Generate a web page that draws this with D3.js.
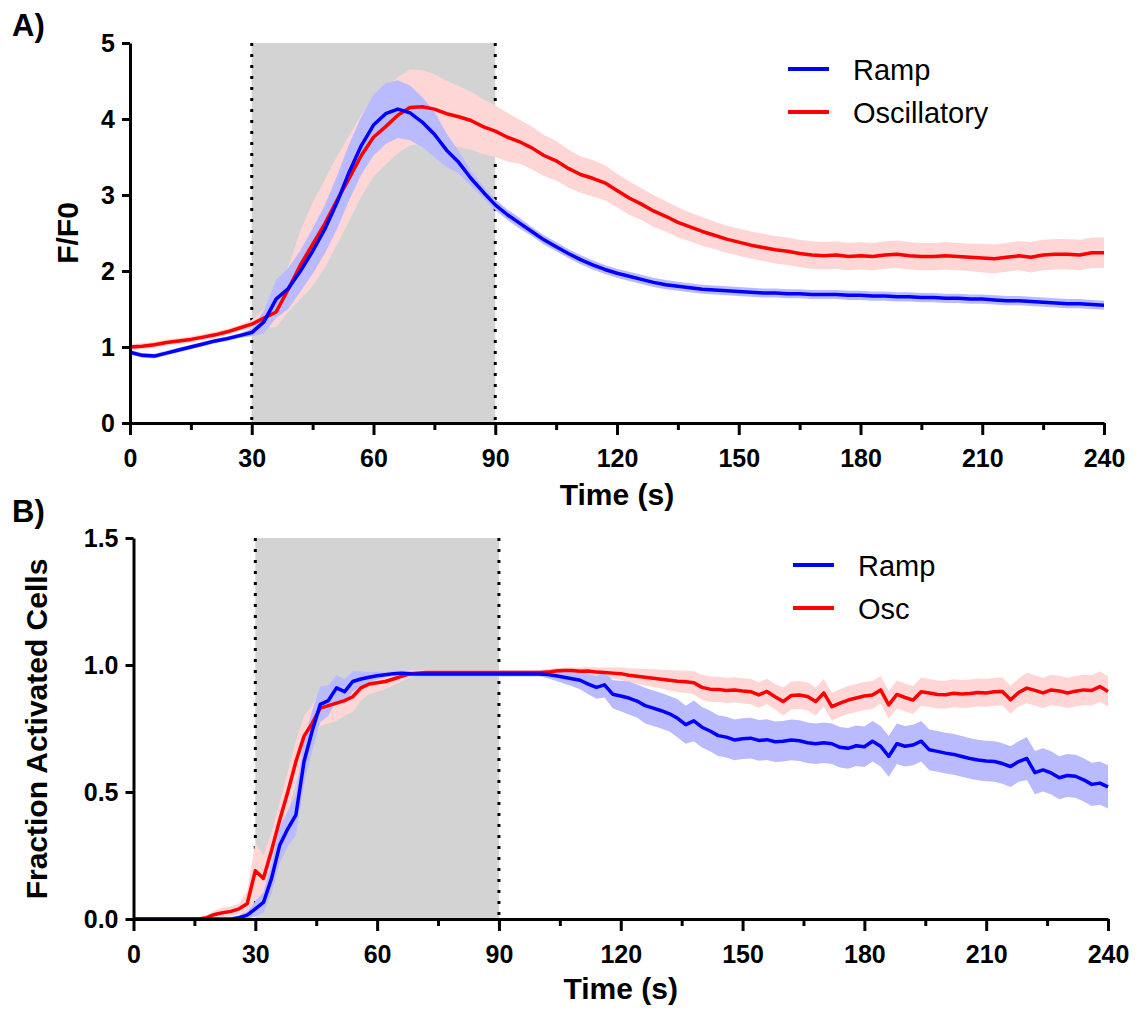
<!DOCTYPE html>
<html>
<head>
<meta charset="utf-8">
<script src="https://cdn.jsdelivr.net/npm/d3@7"></script>
<style>
body { margin: 0; background: #fff; }
svg { font-family: "Liberation Sans", Arial, sans-serif; }
.tick text { font-weight: bold; font-size: 25px; fill: #000; }
</style>
</head>
<body>
<svg width="1142" height="1011"></svg>
<script>
// ---- Data ----
// Panel A: F/F0, sampled every 3 s
let timeA = d3.range(0, 241, 3)
let rampA = [0.93,0.89,0.88,0.92,0.96,1.00,1.04,1.08,1.11,1.15,
    1.19,1.33,1.63,1.77,2.00,2.26,2.55,2.90,3.30,3.65,
    3.92,4.07,4.13,4.08,3.96,3.80,3.59,3.43,3.22,3.04,
    2.87,2.74,2.63,2.52,2.41,2.32,2.23,2.15,2.08,2.02,
    1.97,1.93,1.89,1.85,1.82,1.80,1.78,1.76,1.75,1.74,
    1.73,1.72,1.71,1.71,1.70,1.70,1.69,1.69,1.69,1.68,
    1.68,1.67,1.67,1.66,1.66,1.65,1.65,1.64,1.64,1.63,
    1.63,1.62,1.61,1.61,1.60,1.59,1.58,1.57,1.57,1.56,
    1.55]
let rampASem = [0.03,0.03,0.03,0.03,0.03,0.03,0.03,0.03,0.03,0.03,
    0.05,0.15,0.25,0.27,0.27,0.30,0.32,0.35,0.37,0.38,
    0.40,0.40,0.38,0.36,0.33,0.30,0.22,0.15,0.10,0.08,
    0.07,0.07,0.07,0.06,0.06,0.06,0.06,0.06,0.06,0.06,
    0.06,0.06,0.06,0.06,0.06,0.06,0.06,0.06,0.06,0.06,
    0.06,0.06,0.06,0.06,0.06,0.06,0.06,0.06,0.06,0.06,
    0.06,0.06,0.06,0.06,0.06,0.06,0.06,0.06,0.06,0.06,
    0.06,0.06,0.06,0.06,0.06,0.06,0.06,0.06,0.06,0.06,
    0.06]
let oscA = [1.00,1.01,1.03,1.06,1.08,1.10,1.13,1.16,1.20,1.25,
    1.30,1.38,1.46,1.76,2.08,2.35,2.62,2.93,3.22,3.52,
    3.76,3.90,4.05,4.15,4.16,4.13,4.07,4.03,3.98,3.90,
    3.84,3.76,3.70,3.62,3.52,3.45,3.35,3.27,3.22,3.16,
    3.06,2.96,2.88,2.79,2.72,2.64,2.58,2.52,2.47,2.42,
    2.38,2.34,2.31,2.28,2.26,2.23,2.21,2.20,2.21,2.19,
    2.20,2.19,2.21,2.22,2.20,2.19,2.19,2.20,2.19,2.18,
    2.17,2.16,2.18,2.20,2.18,2.21,2.22,2.22,2.21,2.24,
    2.24]
let oscASem = [0.04,0.04,0.04,0.04,0.04,0.04,0.04,0.04,0.04,0.04,
    0.06,0.12,0.20,0.30,0.45,0.55,0.58,0.58,0.56,0.54,
    0.52,0.50,0.50,0.50,0.48,0.46,0.43,0.40,0.38,0.36,
    0.34,0.32,0.29,0.28,0.27,0.26,0.25,0.24,0.24,0.23,
    0.22,0.22,0.21,0.21,0.20,0.20,0.19,0.19,0.18,0.18,
    0.18,0.18,0.18,0.18,0.18,0.18,0.18,0.18,0.18,0.18,
    0.18,0.18,0.18,0.18,0.18,0.18,0.18,0.18,0.18,0.18,
    0.19,0.19,0.19,0.19,0.20,0.20,0.20,0.20,0.20,0.20,
    0.20]

// Panel B: fraction of activated cells, sampled every 2 s
let timeB = d3.range(0, 241, 2)
let rampB = [0,0,0,0,0,0,0,0,0,0,
    0,0,0,0.005,0.015,0.04,0.065,0.16,0.29,0.355,
    0.41,0.62,0.74,0.845,0.86,0.91,0.895,0.935,0.945,0.952,
    0.958,0.962,0.966,0.968,0.966,0.965,0.965,0.965,0.965,0.965,
    0.965,0.965,0.965,0.965,0.965,0.965,0.965,0.965,0.965,0.965,
    0.965,0.963,0.958,0.952,0.946,0.94,0.925,0.912,0.922,0.885,
    0.878,0.87,0.858,0.84,0.83,0.82,0.808,0.79,0.765,0.78,
    0.755,0.74,0.722,0.716,0.705,0.71,0.712,0.703,0.706,0.698,
    0.7,0.705,0.702,0.694,0.69,0.694,0.69,0.676,0.672,0.682,
    0.678,0.7,0.68,0.64,0.69,0.68,0.685,0.7,0.666,0.66,
    0.653,0.648,0.64,0.632,0.626,0.622,0.62,0.612,0.6,0.62,
    0.632,0.576,0.587,0.575,0.556,0.565,0.562,0.548,0.53,0.535,
    0.52]
let rampBSem = [0.003,0.003,0.003,0.003,0.003,0.003,0.003,0.003,0.003,0.003,
    0.003,0.003,0.005,0.01,0.015,0.03,0.04,0.06,0.07,0.07,
    0.08,0.09,0.08,0.07,0.06,0.05,0.05,0.04,0.03,0.02,
    0.015,0.01,0.01,0.01,0.01,0.01,0.01,0.01,0.01,0.01,
    0.01,0.01,0.01,0.01,0.01,0.01,0.01,0.01,0.01,0.01,
    0.01,0.015,0.02,0.025,0.03,0.035,0.04,0.045,0.05,0.055,
    0.06,0.065,0.065,0.07,0.07,0.07,0.07,0.075,0.075,0.08,
    0.08,0.08,0.08,0.08,0.08,0.08,0.08,0.08,0.08,0.08,
    0.08,0.08,0.08,0.08,0.08,0.08,0.08,0.08,0.08,0.08,
    0.08,0.08,0.08,0.08,0.08,0.08,0.08,0.08,0.08,0.08,
    0.08,0.08,0.08,0.08,0.08,0.08,0.08,0.08,0.08,0.08,
    0.085,0.085,0.085,0.085,0.085,0.085,0.085,0.085,0.085,0.085,
    0.085]
let oscB = [0,0,0,0,0,0,0,0,0,0.005,
    0.018,0.025,0.03,0.04,0.06,0.19,0.16,0.27,0.39,0.5,
    0.62,0.72,0.77,0.83,0.84,0.85,0.86,0.875,0.91,0.925,
    0.93,0.935,0.945,0.955,0.965,0.968,0.97,0.97,0.97,0.97,
    0.97,0.97,0.97,0.97,0.97,0.97,0.97,0.97,0.97,0.97,
    0.97,0.972,0.976,0.978,0.978,0.975,0.976,0.972,0.97,0.968,
    0.966,0.96,0.956,0.952,0.948,0.944,0.94,0.936,0.934,0.93,
    0.912,0.905,0.904,0.9,0.902,0.898,0.895,0.882,0.896,0.875,
    0.856,0.88,0.882,0.876,0.856,0.89,0.836,0.85,0.862,0.87,
    0.878,0.882,0.902,0.843,0.884,0.872,0.862,0.895,0.89,0.884,
    0.883,0.889,0.886,0.888,0.892,0.89,0.895,0.896,0.863,0.892,
    0.909,0.9,0.89,0.902,0.898,0.89,0.897,0.902,0.9,0.915,
    0.896]
let oscBSem = [0.003,0.003,0.003,0.003,0.003,0.003,0.003,0.003,0.003,0.01,
    0.015,0.02,0.02,0.02,0.05,0.11,0.09,0.07,0.07,0.08,
    0.08,0.08,0.07,0.07,0.07,0.07,0.06,0.06,0.05,0.04,
    0.035,0.03,0.025,0.02,0.015,0.01,0.01,0.01,0.01,0.01,
    0.01,0.01,0.01,0.01,0.01,0.01,0.01,0.01,0.01,0.01,
    0.01,0.012,0.012,0.012,0.012,0.015,0.016,0.018,0.02,0.022,
    0.025,0.027,0.03,0.032,0.035,0.037,0.04,0.042,0.044,0.045,
    0.05,0.05,0.05,0.05,0.05,0.05,0.05,0.05,0.05,0.05,
    0.055,0.055,0.055,0.055,0.055,0.055,0.055,0.055,0.055,0.055,
    0.055,0.055,0.055,0.055,0.055,0.055,0.055,0.055,0.055,0.055,
    0.055,0.055,0.055,0.055,0.055,0.055,0.055,0.055,0.055,0.055,
    0.06,0.06,0.06,0.06,0.06,0.06,0.06,0.06,0.06,0.06,
    0.06]

// Axis ticks
let xMajorTicks = [0, 30, 60, 90, 120, 150, 180, 210, 240]
let xMinorTicks = [15, 45, 75, 105, 135, 165, 195, 225]
let yTicksA = [0, 1, 2, 3, 4, 5]
let yTicksB = [0, 0.5, 1.0, 1.5]
let stimulus = [30, 90]

let colors = { ramp: '#0000ff', osc: '#ff0000', rampBand: '#babaff', oscBand: '#ffd6d6' }

let svg = d3.select('svg')
svg.append('rect').attr('width', 1142).attr('height', 1011).attr('fill', '#fff')

function drawPanel(p) {
    let x = d3.scaleLinear().domain([0, 240]).range(p.xRange)
    let y = d3.scaleLinear().domain(p.yDomain).range(p.yRange).clamp(true)
    let yMax = p.yDomain[1]
    let g = svg.append('g')

    // Stimulus window
    g.append('rect')
        .attr('x', x(stimulus[0]))
        .attr('y', y(yMax))
        .attr('width', x(stimulus[1]) - x(stimulus[0]))
        .attr('height', y(0) - y(yMax))
        .attr('fill', '#d3d3d3')

    stimulus.forEach(t => {
        g.append('line')
            .attr('x1', x(t)).attr('x2', x(t))
            .attr('y1', y(yMax)).attr('y2', y(0))
            .attr('stroke', '#000')
            .attr('stroke-width', 3)
            .attr('stroke-dasharray', '3 8')
    })

    let series = [
        { mean: p.osc, sem: p.oscSem, line: colors.osc, band: colors.oscBand },
        { mean: p.ramp, sem: p.rampSem, line: colors.ramp, band: colors.rampBand }
    ]

    // Error bands
    series.forEach(s => {
        let rows = p.times.map((t, i) => ({ t: t, m: s.mean[i], e: s.sem[i] }))
        let area = d3.area()
            .x(d => x(d.t))
            .y0(d => y(d.m - d.e))
            .y1(d => y(d.m + d.e))
        g.append('path').datum(rows).attr('d', area).attr('fill', s.band)
    })

    // Mean lines
    series.forEach(s => {
        let rows = p.times.map((t, i) => ({ t: t, m: s.mean[i] }))
        let line = d3.line().x(d => x(d.t)).y(d => y(d.m))
        g.append('path').datum(rows).attr('d', line)
            .attr('fill', 'none')
            .attr('stroke', s.line)
            .attr('stroke-width', 3.5)
            .attr('stroke-linejoin', 'round')
    })

    // Axes
    let xAxis = d3.axisBottom(x).tickValues(xMajorTicks).tickSize(12).tickPadding(14).tickSizeOuter(0)
    let xMinor = d3.axisBottom(x).tickValues(xMinorTicks).tickSize(7).tickFormat('')
    let yAxis = d3.axisLeft(y).tickValues(p.yTicks).tickSize(8).tickPadding(7).tickSizeOuter(0)
        .tickFormat(p.yFormat)

    g.append('g').attr('transform', `translate(0,${y(0)})`).call(xMinor)
        .call(a => a.select('.domain').remove())
        .selectAll('line').attr('stroke-width', 3)
    g.append('g').attr('transform', `translate(0,${y(0)})`).call(xAxis)
        .selectAll('.domain, line').attr('stroke-width', 3)
    g.append('g').attr('transform', `translate(${x(0)},0)`).call(yAxis)
        .selectAll('.domain, line').attr('stroke-width', 3)

    // Titles
    g.append('text')
        .attr('x', (p.xRange[0] + p.xRange[1]) / 2)
        .attr('y', p.xTitleY)
        .attr('text-anchor', 'middle')
        .style('font-weight', 'bold').style('font-size', '30px')
        .text('Time (s)')

    g.append('text')
        .attr('transform', `translate(${p.yTitleX},${p.yTitleY}) rotate(-90)`)
        .attr('text-anchor', 'middle')
        .style('font-weight', 'bold').style('font-size', '30px')
        .text(p.yTitle)

    g.append('text')
        .attr('x', 12).attr('y', p.panelY)
        .style('font-weight', 'bold').style('font-size', '31px')
        .text(p.panel)

    // Legend
    let legend = [
        { name: p.names[0], color: colors.ramp },
        { name: p.names[1], color: colors.osc }
    ]
    legend.forEach((d, i) => {
        let ly = p.legendY + i * 43
        g.append('line')
            .attr('x1', p.legendX).attr('x2', p.legendX + 41)
            .attr('y1', ly).attr('y2', ly)
            .attr('stroke', d.color).attr('stroke-width', 4)
        g.append('text')
            .attr('x', p.legendX + 65).attr('y', ly + 11)
            .style('font-size', '29px')
            .text(d.name)
    })
}

drawPanel({
    times: timeA, ramp: rampA, rampSem: rampASem, osc: oscA, oscSem: oscASem,
    xRange: [130, 1104], yRange: [423, 43], yDomain: [0, 5],
    yTicks: yTicksA, yFormat: d3.format('d'),
    xTitleY: 505, yTitle: 'F/F0', yTitleX: 78, yTitleY: 233,
    panel: 'A)', panelY: 36,
    names: ['Ramp', 'Oscillatory'], legendX: 788, legendY: 69
})

drawPanel({
    times: timeB, ramp: rampB, rampSem: rampBSem, osc: oscB, oscSem: oscBSem,
    xRange: [133.5, 1108], yRange: [919, 538], yDomain: [0, 1.5],
    yTicks: yTicksB, yFormat: d3.format('.1f'),
    xTitleY: 999, yTitle: 'Fraction Activated Cells', yTitleX: 47, yTitleY: 729,
    panel: 'B)', panelY: 522,
    names: ['Ramp', 'Osc'], legendX: 793, legendY: 565
})
</script>
</body>
</html>
